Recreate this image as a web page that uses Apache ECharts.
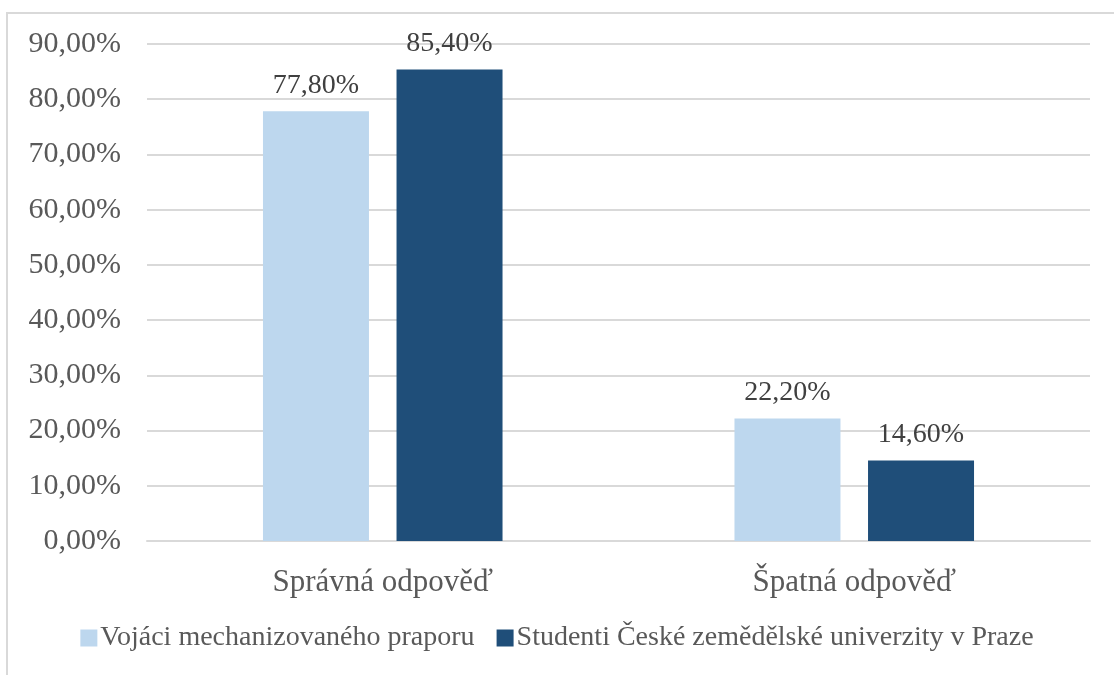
<!DOCTYPE html>
<html>
<head>
<meta charset="utf-8">
<script src="https://cdn.jsdelivr.net/npm/echarts@6/dist/echarts.min.js"></script>
<style>
  html, body { margin: 0; padding: 0; background: #fff; }
  #chart { width: 1114px; height: 675px; }
</style>
</head>
<body>
<div id="chart"></div>
<script>
var categories = ['Správná odpověď', 'Špatná odpověď'];
var seriesNames = ['Vojáci mechanizovaného praporu', 'Studenti České zemědělské univerzity v Praze'];
var vojaci = [77.8, 22.2];
var studenti = [85.4, 14.6];

var textColor = '#595959';
var font = 'Liberation Serif';

var fmt = function (v) {
    return v.toFixed(2).replace('.', ',') + '%';
};

var chart = echarts.init(document.getElementById('chart'));

chart.setOption({
    animation: false,
    textStyle: {fontFamily: font, color: textColor},
    graphic: [{
        type: 'rect',
        shape: {x: 7, y: 13, width: 1130, height: 700},
        style: {fill: 'none', stroke: '#D9D9D9', lineWidth: 2},
        silent: true
    }],
    grid: {left: 147, right: 24, top: 44, bottom: 134},
    legend: {
        bottom: 18,
        left: 'center',
        itemWidth: 17,
        itemHeight: 17,
        itemGap: 22,
        itemStyle: {borderWidth: 0},
        icon: 'rect',
        textStyle: {fontFamily: font, fontSize: 28, color: textColor, padding: [0, 0, 0, -2]},
        data: seriesNames
    },
    xAxis: {
        type: 'category',
        data: categories,
        axisLine: {lineStyle: {color: '#D9D9D9', width: 2}},
        axisTick: {show: false},
        axisLabel: {fontFamily: font, fontSize: 31, color: textColor, margin: 26}
    },
    yAxis: {
        type: 'value',
        min: 0,
        max: 90,
        interval: 10,
        axisLine: {show: false},
        axisTick: {show: false},
        splitLine: {lineStyle: {color: '#D9D9D9', width: 2}},
        axisLabel: {
            fontFamily: font, fontSize: 30, color: textColor, margin: 26,
            formatter: fmt
        }
    },
    series: [{
        name: seriesNames[0],
        type: 'bar',
        data: vojaci,
        barWidth: 106,
        barGap: '26%',
        itemStyle: {color: '#BDD7EE'},
        label: {
            show: true, position: 'top', distance: 12,
            fontFamily: font, fontSize: 28, color: '#404040',
            formatter: function (p) { return fmt(p.value); }
        }
    }, {
        name: seriesNames[1],
        type: 'bar',
        data: studenti,
        barWidth: 106,
        itemStyle: {color: '#1F4E79'},
        label: {
            show: true, position: 'top', distance: 12,
            fontFamily: font, fontSize: 28, color: '#404040',
            formatter: function (p) { return fmt(p.value); }
        }
    }]
});
</script>
</body>
</html>
